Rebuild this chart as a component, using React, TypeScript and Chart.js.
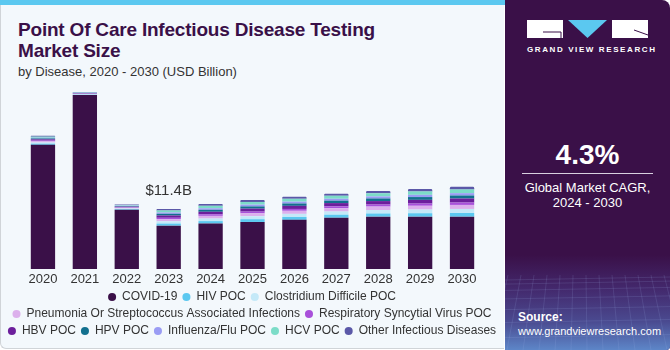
import React, { useEffect, useRef } from "react";
import { Chart, registerables } from "chart.js";

Chart.register(...registerables);

// ---------- DATA ----------
const YEARS = ["2020", "2021", "2022", "2023", "2024", "2025", "2026", "2027", "2028", "2029", "2030"];

const COVID_19 = [23.5, 32.9, 11.2, 8.2, 8.6, 8.9, 9.3, 9.7, 9.9, 9.9, 9.9];
const HIV_POC = [0.21, 0.07, 0.12, 0.39, 0.46, 0.52, 0.54, 0.57, 0.6, 0.65, 0.7];
const CLOSTRIDIUM_POC = [0.23, 0.08, 0.13, 0.43, 0.49, 0.56, 0.59, 0.61, 0.65, 0.7, 0.76];
const PNEUMONIA_STREP = [0.22, 0.08, 0.13, 0.42, 0.5, 0.55, 0.58, 0.62, 0.66, 0.71, 0.76];
const RSV_POC = [0.14, 0.05, 0.08, 0.25, 0.29, 0.33, 0.35, 0.36, 0.39, 0.42, 0.45];
const HBV_POC = [0.23, 0.08, 0.13, 0.43, 0.49, 0.56, 0.59, 0.61, 0.65, 0.7, 0.76];
const HPV_POC = [0.17, 0.06, 0.1, 0.32, 0.37, 0.42, 0.44, 0.46, 0.49, 0.53, 0.57];
const FLU_POC = [0.13, 0.05, 0.08, 0.25, 0.29, 0.33, 0.35, 0.36, 0.39, 0.42, 0.45];
const HCV_POC = [0.21, 0.07, 0.12, 0.39, 0.46, 0.52, 0.54, 0.57, 0.6, 0.65, 0.7];
const OTHER_DISEASES = [0.15, 0.05, 0.09, 0.28, 0.33, 0.37, 0.39, 0.4, 0.43, 0.47, 0.5];

const SERIES_NAMES = [
  "COVID-19",
  "HIV POC",
  "Clostridium Difficile POC",
  "Pneumonia Or Streptococcus Associated Infections",
  "Respiratory Syncytial Virus POC",
  "HBV POC",
  "HPV POC",
  "Influenza/Flu POC",
  "HCV POC",
  "Other Infectious Diseases",
];
const SERIES_VALUES = [
  COVID_19, HIV_POC, CLOSTRIDIUM_POC, PNEUMONIA_STREP, RSV_POC,
  HBV_POC, HPV_POC, FLU_POC, HCV_POC, OTHER_DISEASES,
];

const LABEL_YEAR = "2023";
const LABEL_VALUE = 11.4;
const CAGR_TEXT = "4.3%";

// ---------- STYLE ----------
const SERIES_COLORS = [
  "#3a1048", "#5bc8f0", "#c4e9f8", "#dcb0ec", "#a850da",
  "#6c1f9c", "#12708f", "#9a9cf4", "#7cdcc8", "#5b58a8",
];
const DARK = "#3a1048";
const FONT = "'Liberation Sans', Arial, sans-serif";

const totalLabelPlugin = {
  id: "totalLabel",
  afterDatasetsDraw(chart: any) {
    const idx = YEARS.indexOf(LABEL_YEAR);
    let total = 0;
    chart.data.datasets.forEach((ds: any) => (total += ds.data[idx]));
    const x = chart.scales.x.getPixelForValue(idx);
    const y = chart.scales.y.getPixelForValue(total);
    const ctx = chart.ctx;
    ctx.save();
    ctx.font = `15px ${FONT}`;
    ctx.fillStyle = "#333333";
    ctx.textAlign = "center";
    ctx.textBaseline = "bottom";
    ctx.fillText(`$${LABEL_VALUE}B`, x, y - 11);
    ctx.restore();
  },
};

const hiddenAxis = (position: string, width: number) => ({
  position,
  display: true,
  min: 0,
  max: 35,
  grid: { display: false, drawTicks: false },
  border: { display: false },
  ticks: { display: false },
  afterFit: (s: any) => {
    s.width = width;
  },
});

function BarChart() {
  const ref = useRef<HTMLCanvasElement | null>(null);
  useEffect(() => {
    if (!ref.current) return;
    const last = SERIES_NAMES.length - 1;
    const chart = new Chart(ref.current, {
      type: "bar",
      data: {
        labels: YEARS,
        datasets: SERIES_NAMES.map((name, i) => ({
          label: name,
          data: SERIES_VALUES[i],
          backgroundColor: SERIES_COLORS[i],
          borderWidth: 0,
          borderRadius: i === last ? { topLeft: 2, topRight: 2, bottomLeft: 0, bottomRight: 0 } : 0,
          borderSkipped: false,
          barPercentage: 0.58,
          categoryPercentage: 1,
          yAxisID: "y",
        })),
      },
      options: {
        animation: false,
        responsive: false,
        maintainAspectRatio: false,
        layout: { padding: { top: 4, left: 0, right: 0, bottom: 0 } },
        plugins: {
          legend: {
            position: "bottom",
            labels: {
              usePointStyle: true,
              pointStyle: "circle",
              boxWidth: 8,
              boxHeight: 5.7,
              padding: 5,
              color: "#333333",
              font: { family: FONT, size: 12 },
            },
          },
          tooltip: { enabled: false },
        },
        scales: {
          x: {
            stacked: true,
            grid: { display: false, drawTicks: false },
            border: { display: false },
            ticks: { color: "#333333", font: { family: FONT, size: 13 }, padding: 3 },
            afterFit: (s: any) => {
              s.height = 17;
            },
          },
          y: { ...hiddenAxis("left", 20), stacked: true } as any,
          yRight: hiddenAxis("right", 19) as any,
        },
      },
      plugins: [totalLabelPlugin],
    });
    return () => chart.destroy();
  }, []);
  return (
    <canvas
      ref={ref}
      width={500}
      height={267}
      style={{ position: "absolute", left: 2, top: 80, width: 500, height: 267 }}
    />
  );
}

export default function App() {
  return (
    <div
      style={{
        position: "absolute",
        left: 0,
        top: 0,
        width: 670,
        height: 350,
        background: "#ffffff",
        overflow: "hidden",
        fontFamily: FONT,
      }}
    >
      {/* left panel */}
      <div
        style={{
          position: "absolute",
          left: 0,
          top: 0,
          width: 504,
          height: 349,
          background: "#f3f8fc",
          borderLeft: "1px solid #d0d4d8",
          borderBottom: "1px solid #d0d4d8",
          borderBottomLeftRadius: 6,
          boxSizing: "border-box",
        }}
      />
      <div style={{ position: "absolute", left: 0, top: 0, width: 505, height: 5, background: "#5bc8f0" }} />
      <div
        style={{
          position: "absolute",
          left: 18,
          top: 19,
          color: DARK,
          fontWeight: 700,
          fontSize: 19,
          lineHeight: "21px",
          letterSpacing: -0.2,
        }}
      >
        Point Of Care Infectious Disease Testing
        <br />
        Market Size
      </div>
      <div style={{ position: "absolute", left: 18, top: 64, color: "#333", fontSize: 13 }}>
        by Disease, 2020 - 2030 (USD Billion)
      </div>
      <BarChart />

      {/* right panel */}
      <div
        style={{
          position: "absolute",
          left: 505,
          top: 0,
          width: 165,
          height: 350,
          background: DARK,
          borderTopRightRadius: 8,
          borderBottomRightRadius: 4,
          overflow: "hidden",
        }}
      >
        <div
          style={{
            position: "absolute",
            left: 0,
            top: 255,
            width: 165,
            height: 95,
            background: "linear-gradient(180deg, rgba(58,16,72,1) 0%, #43286c 35%, #4a4a90 70%, #5d86c8 100%)",
          }}
        />
        <svg width={165} height={95} style={{ position: "absolute", left: 0, top: 255 }}>
          {Array.from({ length: 14 }).map((_, i) => (
            <line key={"v" + i} x1={i * 13 - 10} y1={20} x2={i * 16 - 30} y2={95} stroke="#9fb6e8" strokeOpacity={0.25} strokeWidth={0.6} />
          ))}
          {Array.from({ length: 9 }).map((_, i) => (
            <line key={"h" + i} x1={0} y1={25 + i * i * 1.1 + i * 3} x2={165} y2={22 + i * i * 1.1 + i * 3} stroke="#9fb6e8" strokeOpacity={0.25} strokeWidth={0.6} />
          ))}
        </svg>
        <svg width={125} height={20} style={{ position: "absolute", left: 22, top: 20 }}>
          <rect x={0} y={0} width={36} height={18} fill="#ffffff" />
          <path d="M16 12 H34 V18" stroke={DARK} strokeWidth={1} fill="none" />
          <polygon points="41,0 80,0 60.5,18" fill="#5bc8f0" />
          <rect x={85} y={0} width={36} height={18} fill="#ffffff" />
          <line x1={107} y1={10} x2={121} y2={15} stroke={DARK} strokeWidth={1} />
        </svg>
        <div
          style={{
            position: "absolute",
            left: 22,
            width: 125,
            top: 45,
            textAlign: "center",
            color: "#ffffff",
            fontSize: 8,
            fontWeight: 700,
            letterSpacing: 1.6,
            whiteSpace: "nowrap",
          }}
        >
          GRAND VIEW RESEARCH
        </div>
        <div
          style={{
            position: "absolute",
            left: 0,
            width: 165,
            top: 139,
            textAlign: "center",
            color: "#ffffff",
            fontSize: 28,
            fontWeight: 700,
          }}
        >
          {CAGR_TEXT}
        </div>
        <div style={{ position: "absolute", left: 17, top: 173, width: 131, height: 1, background: "#d8d0e0" }} />
        <div
          style={{
            position: "absolute",
            left: 0,
            width: 165,
            top: 180,
            textAlign: "center",
            color: "#ffffff",
            fontSize: 13,
            lineHeight: "15px",
          }}
        >
          Global Market CAGR,
          <br />
          2024 - 2030
        </div>
        <div
          style={{
            position: "absolute",
            left: 13,
            top: 310,
            color: "#ffffff",
            fontSize: 11,
            lineHeight: "14px",
            whiteSpace: "nowrap",
          }}
        >
          <b style={{ fontSize: 12 }}>Source:</b>
          <br />
          www.grandviewresearch.com
        </div>
      </div>
    </div>
  );
}
